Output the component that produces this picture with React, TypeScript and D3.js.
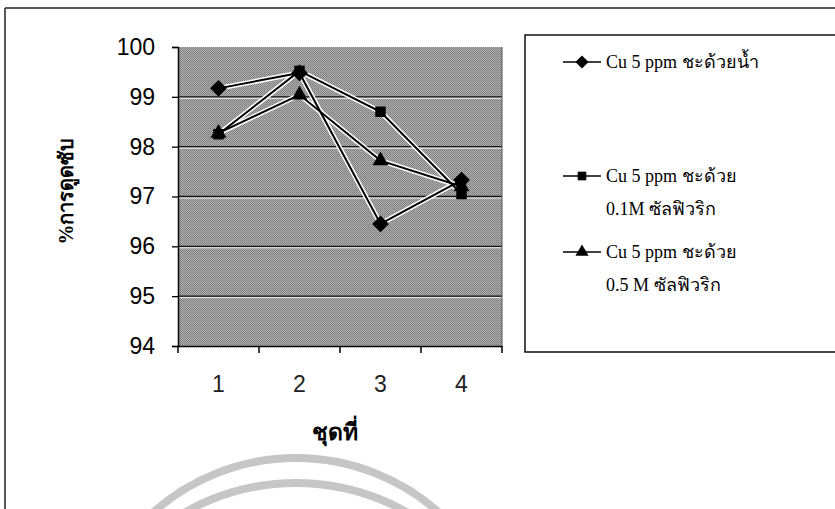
import { useEffect, useRef } from "react";
import * as d3 from "d3";

const categories = ["1", "2", "3", "4"];
const yTicks = [94, 95, 96, 97, 98, 99, 100];

const seriesNames = [
  ["Cu 5 ppm ชะด้วยน้ำ"],
  ["Cu 5 ppm ชะด้วย", "0.1M ซัลฟิวริก"],
  ["Cu 5 ppm ชะด้วย", "0.5 M ซัลฟิวริก"],
];
const water = [99.17, 99.48, 96.45, 97.33];
const sulf01 = [98.25, 99.52, 98.7, 97.05];
const sulf05 = [98.27, 99.04, 97.72, 97.2];
const series = [water, sulf01, sulf05];
const symbols = [(d3 as any).symbolDiamond2 || d3.symbolDiamond, d3.symbolSquare, d3.symbolTriangle];
const plotSizes = [180, 110, 110];
const legendSizes = [110, 75, 75];

const App = () => {
  const ref = useRef<SVGSVGElement>(null);

  useEffect(() => {
    const svg = d3.select(ref.current);
    svg.selectAll("*").remove();

    const left = 178, right = 502, top = 47, bottom = 346;

    // watermark arcs
    const wm = svg.append("g").attr("fill", "none").attr("stroke", "#c6c6c6").attr("stroke-width", 8);
    wm.append("circle").attr("cx", 296).attr("cy", 673).attr("r", 215);
    wm.append("circle").attr("cx", 296).attr("cy", 708).attr("r", 225);

    // outer frame
    svg.append("line").attr("x1", 5).attr("x2", 835).attr("y1", 8).attr("y2", 8).attr("stroke", "#222").attr("stroke-width", 1.5);
    svg.append("line").attr("x1", 5).attr("x2", 5).attr("y1", 8).attr("y2", 509).attr("stroke", "#222").attr("stroke-width", 1.5);

    const x = d3.scaleBand().domain(categories).range([left, right]);
    const y = d3.scaleLinear().domain([94, 100]).range([bottom, top]);

    // dithered plot background
    const defs = svg.append("defs");
    const pat = defs.append("pattern").attr("id", "dither").attr("width", 2).attr("height", 2).attr("patternUnits", "userSpaceOnUse");
    pat.append("rect").attr("width", 2).attr("height", 2).attr("fill", "#b0b0b0");
    pat.append("rect").attr("width", 1).attr("height", 1).attr("fill", "#777");
    pat.append("rect").attr("x", 1).attr("y", 1).attr("width", 1).attr("height", 1).attr("fill", "#888");

    svg.append("rect")
      .attr("x", left).attr("y", top)
      .attr("width", right - left).attr("height", bottom - top)
      .attr("fill", "url(#dither)");

    // grid
    svg.append("g").selectAll("line").data(yTicks.slice(1, -1)).join("line")
      .attr("x1", left).attr("x2", right)
      .attr("y1", (d) => y(d)).attr("y2", (d) => y(d))
      .attr("stroke", "#111").attr("stroke-width", 1.3);
    svg.append("g").selectAll("line").data(yTicks.slice(1, -1)).join("line")
      .attr("x1", left).attr("x2", right)
      .attr("y1", (d) => y(d) + 1.5).attr("y2", (d) => y(d) + 1.5)
      .attr("stroke", "#f0f0f0").attr("stroke-width", 1);

    // axes
    const yAxis = svg.append("g").attr("transform", `translate(${left},0)`)
      .call(d3.axisLeft(y).tickValues(yTicks).tickFormat(d3.format("d")).tickSize(6).tickPadding(17));
    yAxis.select(".domain").attr("stroke", "#000").attr("stroke-width", 1.5);
    yAxis.selectAll(".tick line").attr("stroke-width", 1.3);
    yAxis.selectAll("text").attr("font-family", "Liberation Sans, Arial, sans-serif").attr("font-size", 23).attr("fill", "#000");

    const xAxis = svg.append("g").attr("transform", `translate(0,${bottom})`)
      .call(d3.axisBottom(x).tickSize(0).tickPadding(30));
    xAxis.select(".domain").attr("stroke", "#000").attr("stroke-width", 1.5);
    xAxis.selectAll("text").attr("font-family", "Liberation Sans, Arial, sans-serif").attr("font-size", 23).attr("fill", "#222");
    svg.append("g").selectAll("line").data([...categories.map((c) => x(c)!), right]).join("line")
      .attr("x1", (d) => d).attr("x2", (d) => d)
      .attr("y1", bottom).attr("y2", bottom + 7)
      .attr("stroke", "#000").attr("stroke-width", 1.5);
    // right edge of plot
    svg.append("line").attr("x1", right).attr("x2", right).attr("y1", top).attr("y2", bottom).attr("stroke", "#555").attr("stroke-width", 1);

    // axis titles
    svg.append("text")
      .attr("transform", `translate(73,191) rotate(-90)`)
      .attr("text-anchor", "middle")
      .attr("font-family", "Liberation Serif, serif")
      .attr("font-weight", "bold").attr("font-size", 20)
      .text("%การดูดซับ");
    svg.append("text")
      .attr("x", 335).attr("y", 440)
      .attr("text-anchor", "middle")
      .attr("font-family", "Liberation Serif, serif")
      .attr("font-weight", "bold").attr("font-size", 23)
      .text("ชุดที่");

    const cx = (i: number) => x(categories[i])! + x.bandwidth() / 2;
    const line = d3.line<number>().x((_, i) => cx(i)).y((d) => y(d));

    series.forEach((s) => {
      svg.append("path").datum(s).attr("d", line).attr("fill", "none").attr("stroke", "#fff").attr("stroke-width", 5);
    });
    series.forEach((s, k) => {
      svg.append("path").datum(s).attr("d", line).attr("fill", "none").attr("stroke", "#000").attr("stroke-width", 2);
      svg.append("g").selectAll("path").data(s).join("path")
        .attr("transform", (d, i) => `translate(${cx(i)},${y(d)})`)
        .attr("d", d3.symbol(symbols[k], plotSizes[k])!)
        .attr("fill", "#000");
    });

    // legend
    const lg = svg.append("g");
    lg.append("path").attr("d", "M835,35 H525 V352 H835").attr("fill", "#fff").attr("stroke", "#111").attr("stroke-width", 1.5);
    const ly = [62, 176, 252];
    series.forEach((_, k) => {
      lg.append("line").attr("x1", 563).attr("x2", 601).attr("y1", ly[k]).attr("y2", ly[k]).attr("stroke", "#000").attr("stroke-width", 1.6);
      lg.append("path").attr("transform", `translate(582,${ly[k]})`)
        .attr("d", d3.symbol(symbols[k], legendSizes[k])!).attr("fill", "#000");
      seriesNames[k].forEach((t, j) => {
        lg.append("text").attr("x", 606).attr("y", ly[k] + 6 + j * 33)
          .attr("font-family", "Liberation Serif, Times New Roman, serif")
          .attr("font-size", 18).attr("fill", "#000").text(t);
      });
    });
  }, []);

  return <svg ref={ref} width={835} height={509} style={{ position: "absolute", left: 0, top: 0, background: "#fff" }} />;
};

export default App;
